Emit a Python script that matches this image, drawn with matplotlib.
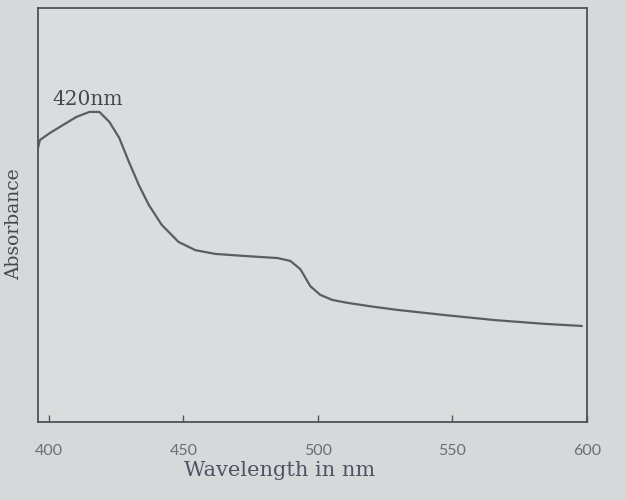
import matplotlib
matplotlib.use("Agg")
import matplotlib.pyplot as plt

# Data (absorbance in arbitrary units, 0..1 axis)
wavelength = [396.0, 396.7, 400.4, 405.2, 410.3, 415.1, 418.8, 422.5, 426.2,
              429.8, 433.5, 437.2, 442.0, 448.2, 454.5, 461.9, 472.9, 485.0,
              489.8, 493.5, 497.2, 500.9, 505.3, 510.8, 520.0, 529.2, 547.6,
              566.0, 584.4, 598.0]
absorbance = [0.662, 0.681, 0.698, 0.717, 0.737, 0.749, 0.749, 0.725, 0.686,
              0.628, 0.572, 0.524, 0.476, 0.435, 0.415, 0.406, 0.401, 0.396,
              0.389, 0.369, 0.328, 0.307, 0.295, 0.288, 0.279, 0.271, 0.258,
              0.246, 0.237, 0.232]
peak_label = "420nm"
xticks = [400, 450, 500, 550, 600]

bg = "#d6d9da"
fig = plt.figure(figsize=(6.26, 5.0), dpi=100, facecolor=bg)
ax = fig.add_axes([0.0607, 0.156, 0.877, 0.828])
ax.set_facecolor("#dadddd")

ax.plot(wavelength, absorbance, color="#5a5d62", lw=1.6,
        solid_joinstyle="round")
ax.set_xlim(396, 598)
ax.set_ylim(0, 1)

ax.set_xticks(xticks)
ax.set_xticklabels([str(t) for t in xticks], fontfamily="Lato",
                   fontsize=11.5, color="#6b6e72")
ax.tick_params(axis="x", direction="in", length=5, width=1.0,
               color="#555", pad=16)
ax.set_yticks([])

for s in ax.spines.values():
    s.set_color("#4f5255")
    s.set_linewidth(1.3)

ax.text(401.5, 0.778, peak_label, fontfamily="DejaVu Serif",
        fontsize=14.5, color="#45484c", ha="left", va="center")

fig.text(0.446, 0.058, "Wavelength in nm", fontfamily="DejaVu Serif",
         fontsize=15, color="#4f5262", ha="center", va="center")
fig.text(0.023, 0.552, "Absorbance", fontfamily="DejaVu Serif",
         fontsize=13.5, color="#45484c", ha="center", va="center",
         rotation=90)

fig.savefig("out.png", dpi=100, facecolor=bg)
